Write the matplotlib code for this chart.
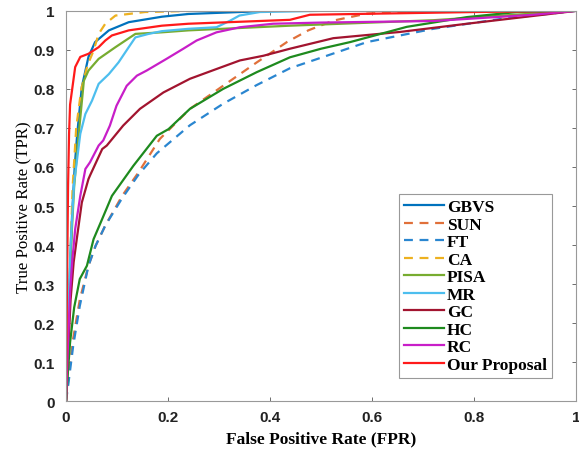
import numpy as np
import matplotlib
matplotlib.use('Agg')
import matplotlib.pyplot as plt

# ROC curves (FPR, TPR)
gbvs_fpr = [0, 0.003, 0.007, 0.012, 0.017, 0.022, 0.031, 0.044, 0.057, 0.084, 0.123, 0.188, 0.24, 0.4, 1]
gbvs_tpr = [0, 0.1, 0.3, 0.48, 0.6, 0.685, 0.805, 0.882, 0.92, 0.95, 0.971, 0.985, 0.992, 1.0, 1]

sun_fpr = [0, 0.004, 0.014, 0.027, 0.044, 0.058, 0.077, 0.11, 0.142, 0.184, 0.243, 0.308, 0.374, 0.433, 0.475, 0.524, 0.59, 0.7, 1]
sun_tpr = [0, 0.05, 0.16, 0.26, 0.347, 0.398, 0.45, 0.526, 0.586, 0.672, 0.749, 0.808, 0.868, 0.92, 0.95, 0.975, 0.993, 1.0, 1]

ft_fpr = [0, 0.004, 0.014, 0.027, 0.044, 0.058, 0.077, 0.11, 0.142, 0.178, 0.243, 0.308, 0.374, 0.439, 0.5, 0.59, 0.72, 0.851, 1]
ft_tpr = [0, 0.038, 0.141, 0.244, 0.347, 0.398, 0.45, 0.52, 0.58, 0.635, 0.707, 0.762, 0.81, 0.853, 0.88, 0.92, 0.954, 0.979, 1]

ca_fpr = [0, 0.004, 0.008, 0.013, 0.02, 0.03, 0.042, 0.054, 0.064, 0.077, 0.097, 0.155, 0.25, 1]
ca_tpr = [0, 0.15, 0.35, 0.55, 0.7, 0.8, 0.86, 0.898, 0.941, 0.967, 0.988, 0.997, 1.0, 1]

pisa_fpr = [0, 0.005, 0.01, 0.016, 0.025, 0.035, 0.044, 0.064, 0.097, 0.136, 0.188, 0.24, 0.439, 0.72, 0.88, 1]
pisa_tpr = [0, 0.2, 0.4, 0.55, 0.685, 0.821, 0.847, 0.877, 0.907, 0.941, 0.945, 0.95, 0.962, 0.976, 0.99, 1]

mr_fpr = [0, 0.004, 0.009, 0.016, 0.028, 0.038, 0.051, 0.064, 0.084, 0.103, 0.123, 0.136, 0.162, 0.188, 0.24, 0.295, 0.322, 0.34, 0.38, 0.5, 1]
mr_tpr = [0, 0.2, 0.4, 0.56, 0.685, 0.736, 0.77, 0.813, 0.838, 0.868, 0.907, 0.932, 0.941, 0.948, 0.954, 0.958, 0.975, 0.988, 0.997, 1.0, 1]

gc_fpr = [0, 0.004, 0.009, 0.015, 0.022, 0.031, 0.044, 0.047, 0.071, 0.08, 0.112, 0.145, 0.191, 0.243, 0.295, 0.341, 0.387, 0.439, 0.524, 0.655, 0.786, 0.916, 1]
gc_tpr = [0, 0.12, 0.26, 0.356, 0.424, 0.509, 0.569, 0.578, 0.646, 0.655, 0.706, 0.749, 0.791, 0.826, 0.851, 0.873, 0.885, 0.903, 0.93, 0.946, 0.967, 0.987, 1]

hc_fpr = [0, 0.004, 0.008, 0.016, 0.027, 0.041, 0.054, 0.071, 0.09, 0.132, 0.178, 0.201, 0.243, 0.308, 0.374, 0.439, 0.5, 0.557, 0.668, 0.786, 0.884, 1]
hc_tpr = [0, 0.08, 0.151, 0.24, 0.313, 0.347, 0.415, 0.467, 0.526, 0.603, 0.68, 0.697, 0.749, 0.8, 0.843, 0.881, 0.903, 0.92, 0.959, 0.984, 0.997, 1]

rc_fpr = [0, 0.004, 0.008, 0.012, 0.018, 0.028, 0.038, 0.047, 0.064, 0.073, 0.086, 0.099, 0.119, 0.139, 0.158, 0.197, 0.23, 0.256, 0.295, 0.341, 0.406, 0.5, 0.72, 0.916, 1]
rc_tpr = [0, 0.15, 0.28, 0.356, 0.441, 0.526, 0.595, 0.612, 0.655, 0.668, 0.706, 0.757, 0.808, 0.834, 0.847, 0.877, 0.903, 0.924, 0.945, 0.958, 0.967, 0.97, 0.974, 0.99, 1]

our_fpr = [0, 0.002, 0.004, 0.006, 0.008, 0.018, 0.028, 0.044, 0.064, 0.077, 0.09, 0.123, 0.188, 0.24, 0.439, 0.478, 0.8, 1]
our_tpr = [0, 0.3, 0.55, 0.685, 0.76, 0.856, 0.882, 0.89, 0.907, 0.924, 0.937, 0.95, 0.962, 0.967, 0.977, 0.99, 0.997, 1]

fig = plt.figure(figsize=(5.79, 4.56), dpi=100)
ax = fig.add_axes([0.114, 0.118, 0.881, 0.856])

lw = 1.6
ax.plot(gbvs_fpr, gbvs_tpr, color='#0072BD', lw=lw, label='GBVS')
ax.plot(sun_fpr, sun_tpr, color='#E0703A', lw=lw, ls=(0, (4, 3)), label='SUN')
ax.plot(ft_fpr, ft_tpr, color='#2A86D0', lw=lw, ls=(0, (4, 3)), label='FT')
ax.plot(ca_fpr, ca_tpr, color='#EDB120', lw=lw, ls=(0, (4, 3)), label='CA')
ax.plot(pisa_fpr, pisa_tpr, color='#77AC30', lw=lw, label='PISA')
ax.plot(mr_fpr, mr_tpr, color='#4DBEEE', lw=lw, label='MR')
ax.plot(gc_fpr, gc_tpr, color='#A2142F', lw=lw, label='GC')
ax.plot(hc_fpr, hc_tpr, color='#1E8A1E', lw=lw, label='HC')
ax.plot(rc_fpr, rc_tpr, color='#C81EC8', lw=lw, label='RC')
ax.plot(our_fpr, our_tpr, color='#FF1A1A', lw=lw, label='Our Proposal')

ax.set_xlim(0, 1)
ax.set_ylim(0, 1)
ax.set_xticks(np.arange(0, 1.01, 0.2))
ax.set_yticks(np.arange(0, 1.01, 0.1))
ax.set_xticklabels(['0', '0.2', '0.4', '0.6', '0.8', '1'])
ax.set_yticklabels(['0'] + ['%.1f' % v for v in np.arange(0.1, 0.95, 0.1)] + ['1'])
ax.tick_params(direction='in', length=3, width=0.6, color='#555555',
               top=True, right=True)
ax.tick_params(axis='x', pad=6)
ax.tick_params(axis='y', pad=8)
for lab in ax.get_xticklabels() + ax.get_yticklabels():
    lab.set_fontfamily('Liberation Sans')
    lab.set_fontweight('bold')
    lab.set_fontsize(11)
    lab.set_color('#222222')
for s in ax.spines.values():
    s.set_color('#999999')
    s.set_linewidth(0.8)

ax.set_xlabel('False Positive Rate (FPR)', fontfamily='Liberation Serif',
              fontweight='bold', fontsize=12.5, labelpad=5)
ax.set_ylabel('True Positive Rate (TPR)', fontfamily='Liberation Serif',
              fontsize=12.2, labelpad=1)

leg = ax.legend(loc='lower left', bbox_to_anchor=(0.653, 0.059), borderaxespad=0,
                prop={'family': 'Liberation Serif', 'weight': 'bold', 'size': 12.5},
                handlelength=2.3, handletextpad=0.15, labelspacing=0.08,
                borderpad=0.3, fancybox=False, framealpha=1)
leg.get_frame().set_edgecolor('#999999')
leg.get_frame().set_linewidth(0.8)

fig.savefig('out.png', dpi=100)
